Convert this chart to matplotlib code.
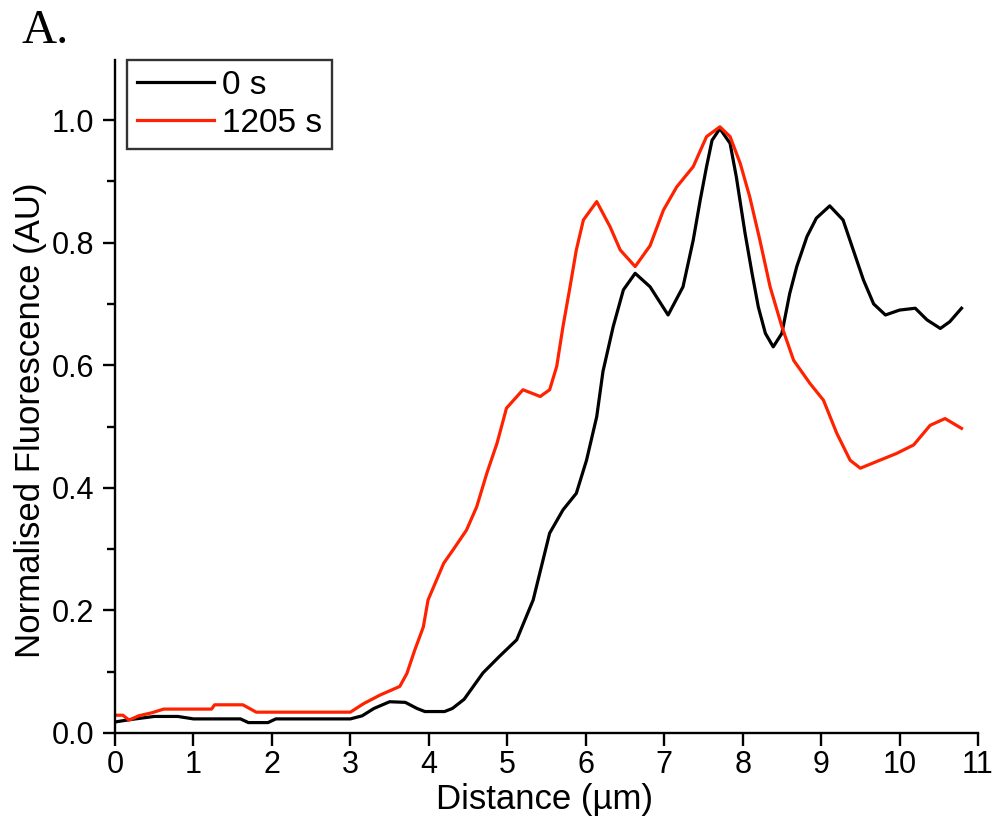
import matplotlib
matplotlib.use("Agg")
import matplotlib.pyplot as plt
from matplotlib.ticker import MultipleLocator

plt.rcParams['font.family'] = ['Liberation Sans', 'DejaVu Sans']

# 0 s profile
x_0s = [0.0, 0.2, 0.5, 0.8, 1.0, 1.6, 1.7, 1.95, 2.05, 3.0, 3.15, 3.3, 3.5, 3.7, 3.85, 3.95,
        4.2, 4.3, 4.45, 4.69, 4.9, 5.12, 5.33, 5.54, 5.71, 5.88, 6.01, 6.14, 6.22, 6.35, 6.48,
        6.63, 6.82, 7.05, 7.24, 7.37, 7.46, 7.54, 7.61, 7.71, 7.84, 7.92, 8.03, 8.12, 8.20,
        8.29, 8.39, 8.50, 8.60, 8.69, 8.82, 8.94, 9.11, 9.28, 9.41, 9.54, 9.67, 9.82, 10.0,
        10.2, 10.35, 10.52, 10.64, 10.79]
y_0s = [0.018, 0.022, 0.027, 0.027, 0.023, 0.023, 0.017, 0.017, 0.023, 0.023, 0.028, 0.040,
        0.051, 0.050, 0.040, 0.035, 0.035, 0.040, 0.055, 0.098, 0.125, 0.152, 0.217, 0.326,
        0.364, 0.391, 0.445, 0.516, 0.590, 0.663, 0.723, 0.750, 0.728, 0.682, 0.728, 0.804,
        0.870, 0.924, 0.967, 0.986, 0.962, 0.907, 0.816, 0.750, 0.695, 0.652, 0.630, 0.652,
        0.717, 0.761, 0.810, 0.840, 0.860, 0.837, 0.788, 0.739, 0.700, 0.682, 0.690, 0.693,
        0.674, 0.660, 0.671, 0.693]

# 1205 s profile
x_1205s = [0.0, 0.1, 0.18, 0.3, 0.47, 0.62, 1.23, 1.27, 1.63, 1.8, 3.0, 3.17, 3.38, 3.63,
           3.72, 3.82, 3.93, 3.99, 4.08, 4.19, 4.31, 4.48, 4.61, 4.74, 4.87, 4.99, 5.2, 5.42,
           5.54, 5.63, 5.71, 5.80, 5.88, 5.97, 6.14, 6.31, 6.44, 6.63, 6.82, 6.99, 7.16, 7.37,
           7.54, 7.71, 7.84, 7.97, 8.09, 8.22, 8.35, 8.50, 8.65, 8.86, 9.03, 9.20, 9.37, 9.50,
           9.71, 9.96, 10.18, 10.39, 10.58, 10.79]
y_1205s = [0.029, 0.029, 0.021, 0.028, 0.033, 0.039, 0.039, 0.046, 0.046, 0.034, 0.034, 0.048,
           0.062, 0.076, 0.097, 0.135, 0.173, 0.217, 0.244, 0.277, 0.299, 0.331, 0.369, 0.424,
           0.473, 0.530, 0.560, 0.549, 0.560, 0.598, 0.663, 0.728, 0.788, 0.837, 0.867, 0.826,
           0.788, 0.761, 0.795, 0.853, 0.891, 0.924, 0.973, 0.989, 0.973, 0.929, 0.875, 0.804,
           0.728, 0.663, 0.608, 0.570, 0.543, 0.489, 0.445, 0.432, 0.443, 0.456, 0.470, 0.502,
           0.513, 0.497]

labels = ["0 s", "1205 s"]
colors = ["black", "#ff2200"]
x_ticks = list(range(0, 12))
y_ticks = [0.0, 0.2, 0.4, 0.6, 0.8, 1.0]

fig = plt.figure(figsize=(9.98, 8.27), dpi=100)
ax = fig.add_axes([115/998, 1-733/827, (978-115)/998, (733-60)/827])

ax.plot(x_0s, y_0s, color=colors[0], lw=2.3, label=labels[0])
ax.plot(x_1205s, y_1205s, color=colors[1], lw=2.3, label=labels[1])

ax.set_xlim(0, 11)
ax.set_ylim(0, 1.098)
ax.set_xticks(x_ticks)
ax.set_yticks(y_ticks)
ax.set_yticklabels([f"{v:.1f}" for v in y_ticks])
ax.yaxis.set_minor_locator(MultipleLocator(0.1))

for s in ['top', 'right']:
    ax.spines[s].set_visible(False)
for s in ['left', 'bottom']:
    ax.spines[s].set_linewidth(1.7)

ax.tick_params(axis='both', which='major', direction='out', length=9, width=1.7,
               labelsize=22)
ax.tick_params(axis='x', which='major', pad=3)
ax.tick_params(axis='y', which='major', pad=6)
ax.tick_params(axis='y', which='minor', direction='out', length=5.5, width=1.7)

ax.set_xlabel("Distance (µm)", fontsize=25)
ax.xaxis.set_label_coords(0.498, -0.075)
ax.set_ylabel("Normalised Fluorescence (AU)", fontsize=25)
ax.yaxis.set_label_coords(-0.079, 0.464)

leg = ax.legend(loc='upper left', bbox_to_anchor=(12/863, 1.0), borderaxespad=0,
                fontsize=24, frameon=True, fancybox=False, handlelength=2.3,
                handletextpad=0.25, labelspacing=0.2, borderpad=0.3)
leg.get_frame().set_edgecolor('black')
leg.get_frame().set_linewidth(1.7)

fig.text(22/998, 1-43/827, "A.", family='Liberation Serif', fontsize=35,
         ha='left', va='baseline')

fig.savefig("out.png", dpi=100)
